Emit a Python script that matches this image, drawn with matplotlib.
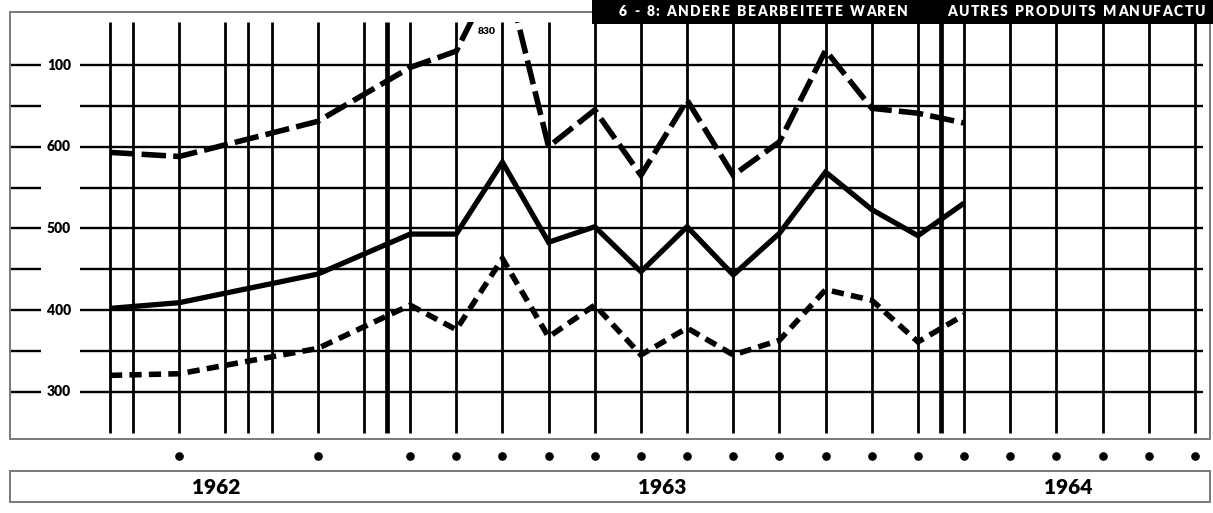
import numpy as np
import matplotlib.pyplot as plt
import matplotlib.patches as mpatches

# Monthly positions: 1963 starts at 0, one unit per month; 1962 is drawn compressed
months = [-6, -4.5, -1.5, 0.5, 1.5, 2.5, 3.5, 4.5, 5.5, 6.5, 7.5, 8.5, 9.5, 10.5, 11.5, 12.5]
upper = [593, 588, 631, 697, 717, 830, 600, 645, 565, 657, 565, 606, 718, 647, 641, 629]
middle = [402, 409, 444, 493, 493, 581, 483, 502, 447, 502, 443, 494, 569, 523, 491, 531]
lower = [320, 322, 353, 406, 376, 463, 367, 406, 345, 378, 345, 363, 425, 412, 361, 394]

# Grid columns and month markers
grid_months = [-6, -5.5, -4.5, -3.5, -3, -2.5, -1.5, -0.5] + [m + 0.5 for m in range(0, 18)]
year_breaks = [0, 12]
dot_months = [-4.5, -1.5] + [m + 0.5 for m in range(0, 18)]

grid_values = [300, 350, 400, 450, 500, 550, 600, 650, 700]
tick_values = [700, 600, 500, 400, 300]
tick_labels = ['100', '600', '500', '400', '300']

years = ['1962', '1963', '1964']
peak_label = '830'
title_de = '6 - 8: ANDERE BEARBEITETE WAREN'
title_fr = 'AUTRES PRODUITS MANUFACTURÉS'

# Page layout (pixels)
W, H = 1213, 513
MONTH_PX = 46.17
ORIGIN_PX = 387.0
UNIT_PX = 0.8167
BASE_PX = 391.7  # y pixel of value 300


def xd(px):
    return (px - ORIGIN_PX) / MONTH_PX


def yd(py):
    return 300 + (BASE_PX - py) / UNIT_PX


fig = plt.figure(figsize=(W / 100, H / 100), dpi=100)
ax = fig.add_axes([0, 0, 1, 1])
ax.axis('off')
ax.set_xlim(xd(0), xd(W))
ax.set_ylim(yd(H), yd(0))

# grid
for m in grid_months:
    ax.vlines(m, yd(433), yd(22), color='black', lw=2.0, zorder=1)
for m in year_breaks:
    ax.vlines(m, yd(433), yd(22), color='black', lw=3.4, zorder=1)
for v in grid_values:
    ax.hlines(v, xd(80), xd(1203), color='black', lw=1.7, zorder=1)
    ax.hlines(v, xd(10), xd(41), color='black', lw=1.7, zorder=1)
for v, lab in zip(tick_values, tick_labels):
    ax.text(xd(59), v, lab, ha='center', va='center', fontsize=10,
            fontweight='heavy', family='Lato', zorder=3)

# plot area clip (the 830 peak runs off the top)
clip = mpatches.Rectangle((xd(80), yd(433)), xd(1203) - xd(80), yd(22) - yd(433),
                          transform=ax.transData, fc='none', ec='none')
ax.add_patch(clip)

l1, = ax.plot(months, upper, color='black', lw=4.0, ls=(0, (4.4, 1.3)),
              dash_capstyle='butt', dash_joinstyle='miter', zorder=4)
l2, = ax.plot(months, middle, color='black', lw=3.8,
              solid_joinstyle='miter', solid_capstyle='butt', zorder=4)
l3, = ax.plot(months, lower, color='black', lw=4.0, ls=(0, (2.2, 1.3)),
              dash_capstyle='butt', dash_joinstyle='miter', zorder=4)
for ln in (l1, l2, l3):
    ln.set_clip_path(clip)

ax.text(xd(487), yd(31), peak_label, ha='center', va='center', fontsize=7.5,
        fontweight='heavy', family='Lato', zorder=4)

# frame and month dots
ax.add_patch(mpatches.Rectangle((xd(10), yd(439)), xd(1210) - xd(10), yd(12) - yd(439),
                                fill=False, ec='#7a7a7a', lw=1.4, zorder=2))
ax.plot(dot_months, [yd(456)] * len(dot_months), 'o', color='black', ms=5.2,
        clip_on=False, zorder=4)

# year band
ax.add_patch(mpatches.Rectangle((xd(10), yd(502)), xd(1210) - xd(10), yd(471) - yd(502),
                                fill=False, ec='#7a7a7a', lw=1.4, zorder=2))
for year, cx in zip(years, [216, 662, 1068]):
    ax.text(xd(cx), yd(487), year, ha='center', va='center', fontsize=15,
            fontweight='heavy', family='Lato', zorder=3)

# title banner
ax.add_patch(mpatches.Rectangle((xd(592), yd(24)), xd(W + 5) - xd(592), yd(-5) - yd(24),
                                fc='black', ec='none', zorder=6, clip_on=False))

renderer = fig.canvas.get_renderer()
TITLE_PT = 10
title_kw = dict(fontsize=TITLE_PT, fontweight='heavy', family='Lato', color='white')


def advances(s):
    out = []
    for ch in s:
        if ch == ' ':
            out.append(TITLE_PT * 100 / 72 * 0.3)
        else:
            t = fig.text(0, 0, ch, **title_kw)
            out.append(t.get_window_extent(renderer).width)
            t.remove()
    return out


adv_de = advances(title_de)
track = (289 - sum(adv_de)) / (len(title_de) - 1)


def tracked(x0, s, adv):
    x = x0
    for ch, a in zip(s, adv):
        if ch != ' ' and x + a <= W:
            fig.text(x / W, 1 - 11.5 / H, ch, ha='left', va='center', zorder=7, **title_kw)
        x += a + track


tracked(619, title_de, adv_de)
tracked(947, title_fr, advances(title_fr))

fig.savefig('out.png', dpi=100, facecolor='white')
